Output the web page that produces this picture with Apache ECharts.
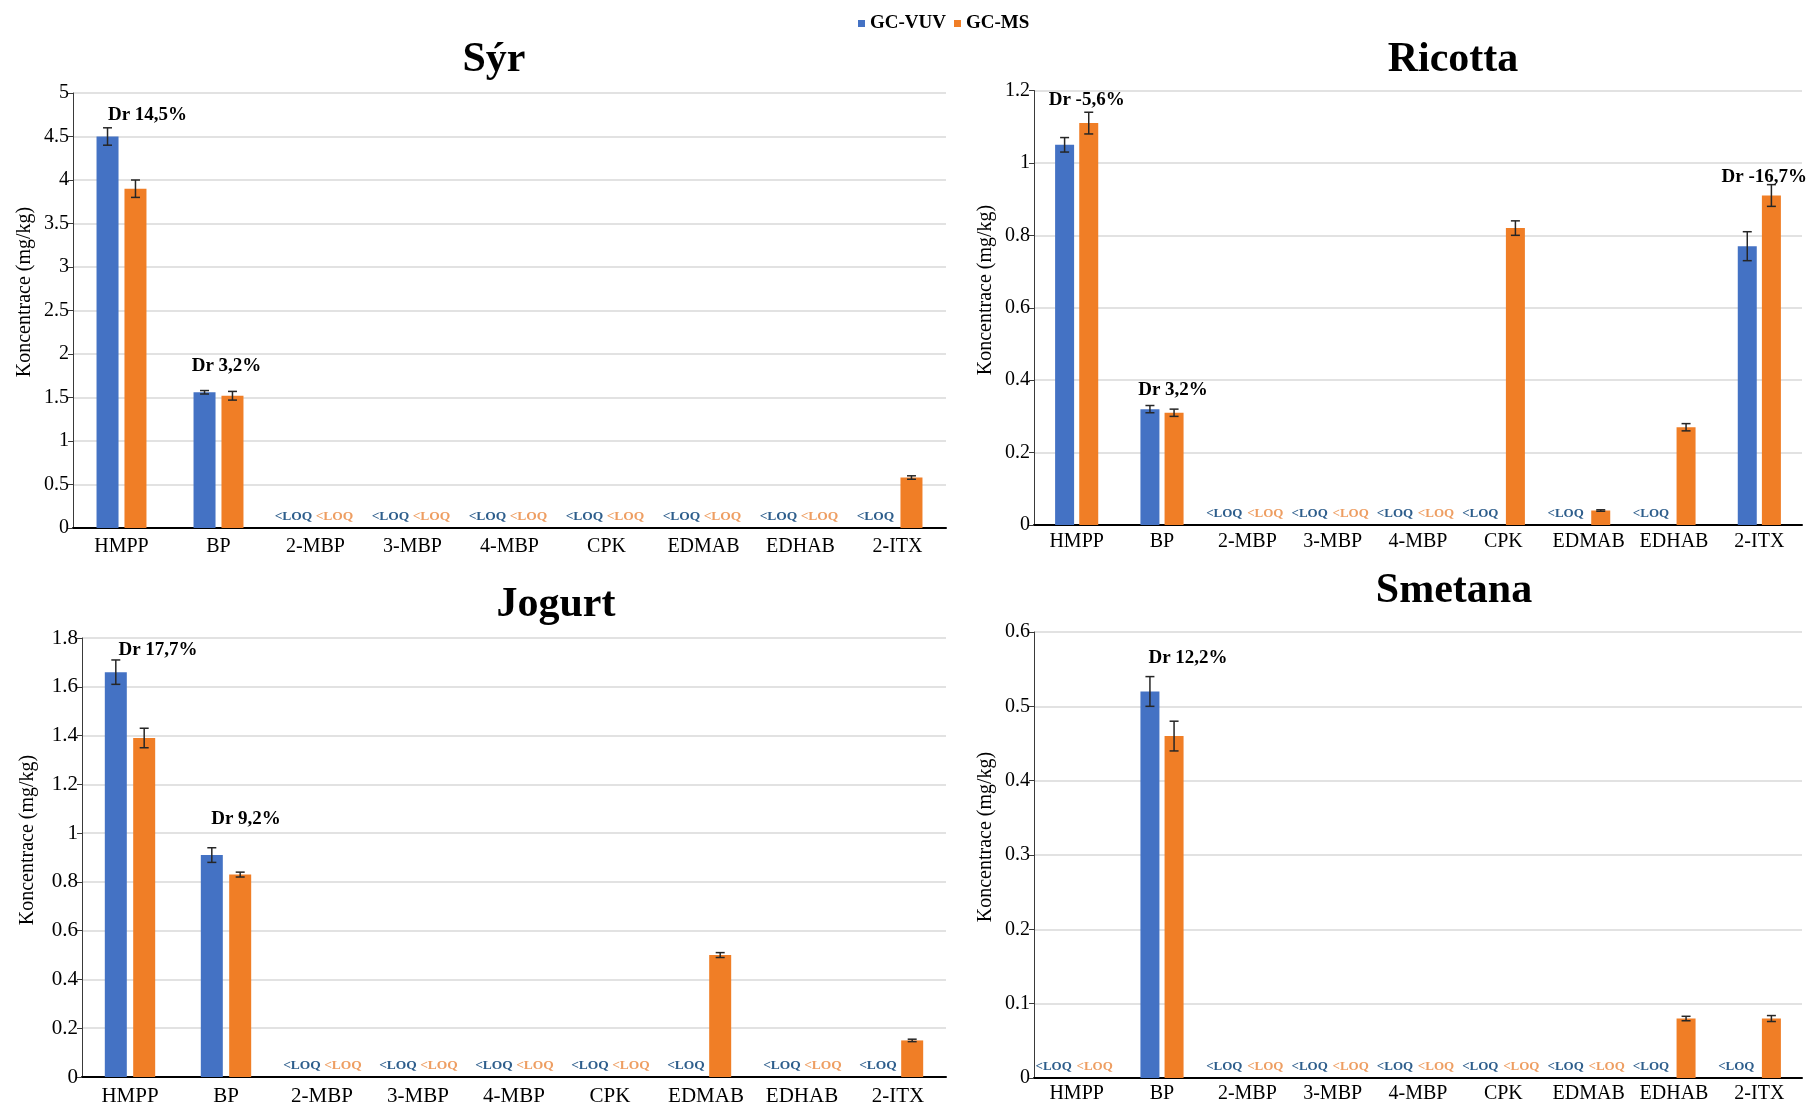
<!DOCTYPE html>
<html>
<head>
<meta charset="utf-8">
<script src="https://cdn.jsdelivr.net/npm/echarts@6/dist/echarts.min.js"></script>
<style>
  html, body { margin: 0; padding: 0; background: #ffffff; }
  #chart { width: 1809px; height: 1107px; }
</style>
</head>
<body>
<div id="chart"></div>
<script>
// Photoinitiators measured in four dairy matrices, GC-VUV vs GC-MS (mg/kg).
// null = below the limit of quantification (drawn as "<LOQ").
const categories = ['HMPP', 'BP', '2-MBP', '3-MBP', '4-MBP', 'CPK', 'EDMAB', 'EDHAB', '2-ITX'];
const methodNames = ['GC-VUV', 'GC-MS'];

// Sýr
const syrVuv    = [4.50, 1.56, null, null, null, null, null, null, null];
const syrVuvErr = [0.10, 0.02, null, null, null, null, null, null, null];
const syrMs     = [3.90, 1.52, null, null, null, null, null, null, 0.58];
const syrMsErr  = [0.10, 0.05, null, null, null, null, null, null, 0.02];
const syrDr     = [['HMPP', 'Dr 14,5%'], ['BP', 'Dr 3,2%']];

// Ricotta
const ricottaVuv    = [1.05, 0.32, null, null, null, null, null, null, 0.77];
const ricottaVuvErr = [0.02, 0.01, null, null, null, null, null, null, 0.04];
const ricottaMs     = [1.11, 0.31, null, null, null, 0.82, 0.04, 0.27, 0.91];
const ricottaMsErr  = [0.03, 0.01, null, null, null, 0.02, 0.002, 0.01, 0.03];
const ricottaDr     = [['HMPP', 'Dr -5,6%'], ['BP', 'Dr 3,2%'], ['2-ITX', 'Dr -16,7%']];

// Jogurt
const jogurtVuv    = [1.66, 0.91, null, null, null, null, null, null, null];
const jogurtVuvErr = [0.05, 0.03, null, null, null, null, null, null, null];
const jogurtMs     = [1.39, 0.83, null, null, null, null, 0.50, null, 0.15];
const jogurtMsErr  = [0.04, 0.01, null, null, null, null, 0.01, null, 0.005];
const jogurtDr     = [['HMPP', 'Dr 17,7%'], ['BP', 'Dr 9,2%']];

// Smetana
const smetanaVuv    = [null, 0.52, null, null, null, null, null, null, null];
const smetanaVuvErr = [null, 0.02, null, null, null, null, null, null, null];
const smetanaMs     = [null, 0.46, null, null, null, null, null, 0.08, 0.08];
const smetanaMsErr  = [null, 0.02, null, null, null, null, null, 0.003, 0.004];
const smetanaDr     = [['BP', 'Dr 12,2%']];

// Y-axis scales
const syrAxis     = { max: 5,   interval: 0.5 };
const ricottaAxis = { max: 1.2, interval: 0.2 };
const jogurtAxis  = { max: 1.8, interval: 0.2 };
const smetanaAxis = { max: 0.6, interval: 0.1 };

const SERIF = '"Liberation Serif", "Times New Roman", serif';
const BLUE = '#4472C4';
const ORANGE = '#F07E26';
const LOQ_BLUE = '#2E5E8C';
const LOQ_ORANGE = '#EE9E62';
const Y_NAME = 'Koncentrace (mg/kg)';

// Panel layout and styling
const panels = [
  { title: 'Sýr', vuv: syrVuv, vuvErr: syrVuvErr, ms: syrMs, msErr: syrMsErr, dr: syrDr, axis: syrAxis,
    grid: { left: 73, top: 93, width: 873, height: 435 }, titleAt: [494, 60], nameAt: [25, 292],
    barWidth: 22, gapPct: 0.27, fontSize: 20, labelMargin: 9, loqDx: [-22, 19], loqFont: 13.5,
    drOffsets: [[26, -13], [8, -24]] },
  { title: 'Ricotta', vuv: ricottaVuv, vuvErr: ricottaVuvErr, ms: ricottaMs, msErr: ricottaMsErr, dr: ricottaDr, axis: ricottaAxis,
    grid: { left: 1034, top: 90.5, width: 768, height: 434.5 }, titleAt: [1453, 60], nameAt: [986, 290],
    barWidth: 19, gapPct: 0.27, fontSize: 20, labelMargin: 7, loqDx: [-23, 18], loqFont: 13,
    drOffsets: [[10, -12], [11, -15], [5, -8]] },
  { title: 'Jogurt', vuv: jogurtVuv, vuvErr: jogurtVuvErr, ms: jogurtMs, msErr: jogurtMsErr, dr: jogurtDr, axis: jogurtAxis,
    grid: { left: 82, top: 638, width: 864, height: 441 }, titleAt: [556, 605], nameAt: [28, 840],
    barWidth: 22, gapPct: 0.29, fontSize: 21, labelMargin: 9, loqDx: [-20, 21], loqFont: 13.5,
    drOffsets: [[28, -10], [20, -29]] },
  { title: 'Smetana', vuv: smetanaVuv, vuvErr: smetanaVuvErr, ms: smetanaMs, msErr: smetanaMsErr, dr: smetanaDr, axis: smetanaAxis,
    grid: { left: 1034, top: 632, width: 768, height: 446 }, titleAt: [1454, 591], nameAt: [986, 837],
    barWidth: 19, gapPct: 0.27, fontSize: 20, labelMargin: 6, loqDx: [-23, 18], loqFont: 13,
    drOffsets: [[26, -19]] }
];

function textStyle(text, font, fill) {
  return { text, font, fill, align: 'center', verticalAlign: 'middle', textAlign: 'center', textVerticalAlign: 'middle' };
}

function errorBarSeries(idx, values, errs, side, shift) {
  const data = [];
  values.forEach((v, i) => { if (v != null && errs[i] != null) data.push([i, v, errs[i]]); });
  return {
    type: 'custom', xAxisIndex: idx, yAxisIndex: idx, z: 5, silent: true,
    data, encode: { x: 0, y: 1 },
    renderItem(params, api) {
      const i = api.value(0), v = api.value(1), e = api.value(2);
      const hi = api.coord([i, v + e]);
      const lo = api.coord([i, v - e]);
      const x = hi[0] + side * shift;
      const st = { stroke: '#262626', lineWidth: 1.5 };
      const cap = 4.5;
      return { type: 'group', children: [
        { type: 'line', shape: { x1: x, y1: hi[1], x2: x, y2: lo[1] }, style: st },
        { type: 'line', shape: { x1: x - cap, y1: hi[1], x2: x + cap, y2: hi[1] }, style: st },
        { type: 'line', shape: { x1: x - cap, y1: lo[1], x2: x + cap, y2: lo[1] }, style: st }
      ] };
    }
  };
}

function loqSeries(idx, values, dx, color, size) {
  const data = [];
  values.forEach((v, i) => { if (v == null) data.push([i, 0]); });
  return {
    type: 'custom', xAxisIndex: idx, yAxisIndex: idx, z: 6, silent: true,
    data, encode: { x: 0, y: 1 },
    renderItem(params, api) {
      const p = api.coord([api.value(0), 0]);
      return { type: 'text', x: p[0] + dx, y: p[1] - 11,
        style: textStyle('<LOQ', 'bold ' + size + 'px ' + SERIF, color) };
    }
  };
}

function drSeries(idx, p) {
  const data = p.dr.map(([cat]) => {
    const i = categories.indexOf(cat);
    const tops = [];
    if (p.vuv[i] != null) tops.push(p.vuv[i] + (p.vuvErr[i] || 0));
    if (p.ms[i] != null) tops.push(p.ms[i] + (p.msErr[i] || 0));
    return [i, Math.max.apply(null, tops)];
  });
  return {
    type: 'custom', xAxisIndex: idx, yAxisIndex: idx, z: 7, silent: true,
    data, encode: { x: 0, y: 1 },
    renderItem(params, api) {
      const c = api.coord([api.value(0), api.value(1)]);
      const off = p.drOffsets[params.dataIndex];
      return { type: 'text', x: c[0] + off[0], y: c[1] + off[1],
        style: textStyle(p.dr[params.dataIndex][1], 'bold 19px ' + SERIF, '#000') };
    }
  };
}

const grids = [], xAxes = [], yAxes = [], series = [], graphics = [];

panels.forEach((p, idx) => {
  grids.push(Object.assign({ containLabel: false }, p.grid));
  xAxes.push({
    type: 'category', gridIndex: idx, data: categories,
    axisLine: { lineStyle: { color: '#000', width: 2 } },
    axisTick: { show: false },
    axisLabel: { interval: 0, color: '#000', fontFamily: SERIF, fontSize: p.fontSize, margin: p.labelMargin }
  });
  yAxes.push({
    type: 'value', gridIndex: idx, min: 0, max: p.axis.max, interval: p.axis.interval,
    axisLine: { show: true, lineStyle: { color: '#3a3a3a', width: 1 } },
    axisTick: { show: true, length: 5, lineStyle: { color: '#3a3a3a' } },
    axisLabel: { color: '#000', fontFamily: SERIF, fontSize: p.fontSize, margin: 4 },
    splitLine: { lineStyle: { color: '#D9D9D9', width: 1.5 } }
  });
  const gap = Math.round(p.gapPct * 100) + '%';
  series.push({
    name: methodNames[0], type: 'bar', xAxisIndex: idx, yAxisIndex: idx,
    data: p.vuv, barWidth: p.barWidth, barGap: gap, itemStyle: { color: BLUE }, silent: true
  });
  series.push({
    name: methodNames[1], type: 'bar', xAxisIndex: idx, yAxisIndex: idx,
    data: p.ms, barWidth: p.barWidth, barGap: gap, itemStyle: { color: ORANGE }, silent: true
  });
  const shift = p.barWidth * (1 + p.gapPct) / 2;
  series.push(errorBarSeries(idx, p.vuv, p.vuvErr, -1, shift));
  series.push(errorBarSeries(idx, p.ms, p.msErr, 1, shift));
  series.push(loqSeries(idx, p.vuv, p.loqDx[0], LOQ_BLUE, p.loqFont));
  series.push(loqSeries(idx, p.ms, p.loqDx[1], LOQ_ORANGE, p.loqFont));
  series.push(drSeries(idx, p));

  graphics.push({ type: 'text', x: p.titleAt[0], y: p.titleAt[1], silent: true,
    style: textStyle(p.title, 'bold 42px ' + SERIF, '#000') });
  graphics.push({ type: 'text', x: p.nameAt[0], y: p.nameAt[1], rotation: Math.PI / 2, silent: true,
    style: textStyle(Y_NAME, '20px ' + SERIF, '#000') });
});

const chart = echarts.init(document.getElementById('chart'), null, { renderer: 'canvas' });
chart.setOption({
  backgroundColor: '#ffffff',
  animation: false,
  legend: {
    data: methodNames, left: 853, top: 9, icon: 'rect', itemWidth: 7, itemHeight: 7, itemGap: 8,
    selectedMode: false,
    textStyle: { fontFamily: SERIF, fontWeight: 'bold', fontSize: 19, color: '#000' }
  },
  grid: grids,
  xAxis: xAxes,
  yAxis: yAxes,
  series,
  graphic: graphics
});
</script>
</body>
</html>
